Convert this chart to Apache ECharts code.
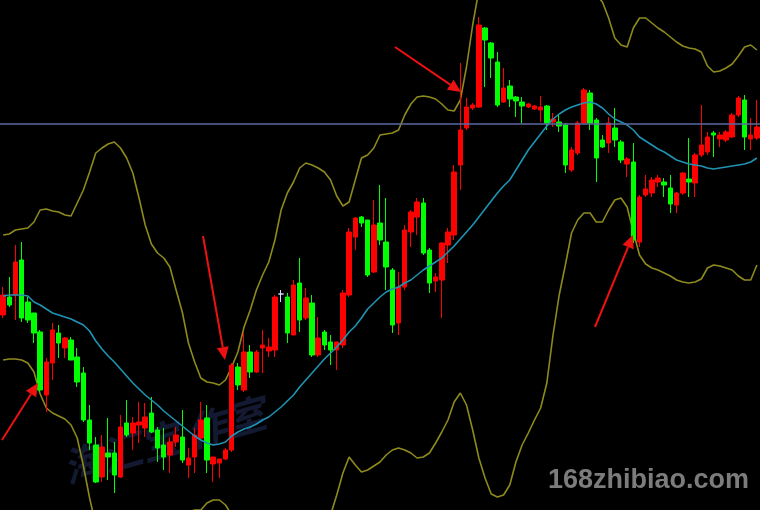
<!DOCTYPE html>
<html><head><meta charset="utf-8">
<script src="https://cdn.jsdelivr.net/npm/echarts@6/dist/echarts.min.js"></script>
<style>html,body{margin:0;padding:0;background:#000;}#c{width:760px;height:510px;}</style>
</head><body><div id="c"></div>
<script>
// candles: [open, close, low, high]
const candles = [
[195,215,192,223],[213,205,203,233],[215,248,190,265],[250,192,188,268],[208,190,187,213],
[197,177,167,197],[178,120,118,180],[115,148,98,152],[147,180,130,187],[177,167,152,185],
[162,172,152,173],[170,150,150,173],[153,128,123,162],[137,90,88,143],[90,67,60,105],
[65,28,27,73],[33,63,28,75],[57,53,30,92],[57,35,17,68],[33,83,32,95],
[87,75,73,110],[77,87,60,93],[85,88,67,108],[82,93,73,107],[97,78,77,113],
[80,62,48,83],[65,53,40,82],[55,68,37,73],[68,75,63,83],[73,50,47,100],
[45,52,32,62],[53,75,37,82],[72,90,70,108],[92,50,37,105],[46,53,28,53],
[47,51,32,51],[51,60,50,62],[60,145,58,147],[143,125,120,147],[120,158,118,177],
[158,138,132,165],[138,158,137,160],[162,165,137,180],[159,163,153,172],[160,213,153,215],
[216,216,208,220],[213,177,167,217],[175,225,175,230],[227,190,178,252],[192,212,190,222],
[207,155,153,215],[155,172,153,193],[178,165,160,180],[168,160,145,175],[160,168,140,168],
[165,217,162,220],[215,278,213,282],[273,292,260,293],[293,287,283,294],[290,235,233,290],
[238,285,237,310],[287,270,265,325],[268,243,220,312],[240,185,177,242],[187,223,175,238],
[223,280,220,285],[278,298,263,300],[293,308,275,312],[307,257,255,312],[260,227,217,262],
[229,233,218,237],[230,267,192,268],[265,278,247,282],[275,338,270,345],[345,380,320,447],
[382,403,380,412],[402,405,400,407],[403,485,402,493],[482,470,423,483],[467,452,432,468],
[448,405,403,458],[408,422,407,442],[424,411,403,430],[413,409,393,414],[408,404,387,413],
[403,406,402,407],[401,404,400,405],[400,403,388,414],[404,387,380,405],[388,391,383,397],
[388,384,378,395],[385,345,337,387],[340,360,338,363],[357,387,355,389],[387,420,386,422],
[417,387,380,420],[390,352,328,392],[370,363,362,375],[367,387,357,393],[382,370,363,402],
[368,350,347,370],[346,351,333,353],[348,270,267,367],[268,313,263,315],[315,321,313,335],
[317,330,313,333],[328,332,323,335],[328,325,313,332],[322,306,297,335],[305,317,297,318],
[317,337,315,338],[331,328,313,372],[327,355,313,357],[355,365,353,405],[358,373,355,378],
[377,375,353,379],[371,375,363,378],[370,378,368,380],[373,395,372,397],[395,412,393,414],
[410,373,360,415],[371,375,360,392],[372,383,370,410]
];
const bandMiddle = [214,215,215,215,214,208,205,201,197,195,193,191,188,185,179,169,161,154,148,141,
134,127,121,115,110,105,99,94,89,84,79,74,70,67,65,66,68,74,78,81,
83,86,90,93,98,103,109,115,123,130,137,144,151,157,163,170,178,184,192,201,
207,213,218,221,223,227,230,235,240,244,248,252,258,264,271,278,285,293,301,309,
317,324,330,340,350,360,368,376,384,391,396,400,403,405,407,408,406,402,396,391,
388,385,380,373,369,365,361,358,354,350,348,346,345,344,342,341,342,343,344,345,
346,348,352];
const bandUpper = [275,276,280,281,282,288,300,301,299,298,295,294,307,320,338,357,362,366,368,362,
352,337,312,285,266,257,252,243,220,198,167,148,132,128,127,125,130,143,158,183,
200,220,235,248,270,300,317,328,342,347,345,342,338,330,314,304,308,330,352,355,
362,375,376,377,380,395,406,413,414,413,411,406,400,399,410,443,485,520,540,555,
565,570,572,570,565,560,555,550,545,540,535,532,530,528,525,520,515,508,492,472,
465,463,482,492,492,487,482,478,473,468,464,462,461,458,444,438,439,442,446,454,
463,465,460];
const bandLower = [150,151,151,150,147,138,116,102,97,94,91,85,72,44,12,-15,-40,-60,-75,-80,
-80,-75,-65,-55,-45,-35,-25,-17,-10,-5,-2,0,0,7,10,10,5,-5,-15,-30,
-45,-60,-70,-80,-90,-100,-102,-100,-95,-85,-70,-50,-30,-5,15,37,53,45,38,40,
44,48,55,60,62,60,57,52,53,57,67,78,90,108,117,105,80,52,32,16,
13,15,25,48,65,77,90,102,127,175,215,245,277,290,297,297,288,288,300,310,
312,303,278,255,246,242,240,237,234,230,228,227,228,231,242,245,244,242,240,234,
230,230,245];
const priceLevel = 386;
const categories = candles.map((_, i) => 'B' + (i + 1));
const watermarkText = '海汇宝 作室';
const siteText = '168zhibiao.com';

const chart = echarts.init(document.getElementById('c'), null, {renderer: 'canvas'});

const arrows = [
  {from: [2, 440], to: [38, 383]},
  {from: [203, 236], to: [225, 360]},
  {from: [395, 47], to: [461, 92]},
  {from: [595, 327], to: [633, 235]}
];
function arrowEls(a) {
  const dx = a.to[0] - a.from[0], dy = a.to[1] - a.from[1];
  const L = Math.sqrt(dx * dx + dy * dy), ux = dx / L, uy = dy / L;
  const hl = 13, hw = 6;
  const bx = a.to[0] - ux * hl, by = a.to[1] - uy * hl;
  return [
    {type: 'polyline', z: 100, shape: {points: [a.from, [bx, by]]}, style: {stroke: '#ee1111', lineWidth: 2, fill: null}},
    {type: 'polygon', z: 100, shape: {points: [a.to, [bx - uy * hw, by + ux * hw], [bx + uy * hw, by - ux * hw]]}, style: {fill: '#ee1111'}}
  ];
}
let graphics = [];
arrows.forEach(a => { graphics = graphics.concat(arrowEls(a)); });
graphics.push({
  type: 'text', z: 0, left: 58, top: 392, rotation: 0.28, originX: 0, originY: 0,
  style: {text: watermarkText, fill: 'rgba(40,50,100,0.5)', font: 'italic bold 40px "Noto Sans CJK SC"'}
});
graphics.push({
  type: 'text', z: 100, left: 548, top: 467,
  style: {text: siteText, fill: '#7c7c7c', font: 'bold 27px "Liberation Sans", Arial'}
});

const candleData = candles.map(c => c[0] === c[1]
  ? {value: c, itemStyle: {color: '#d8d8ff', borderColor: '#d8d8ff', color0: '#d8d8ff', borderColor0: '#d8d8ff'}}
  : c);

chart.setOption({
  backgroundColor: '#000000',
  animation: false,
  grid: {left: 0, right: 0, top: 0, bottom: 0},
  xAxis: {type: 'category', data: categories, boundaryGap: true, show: false},
  yAxis: {type: 'value', min: 0, max: 510, show: false, splitLine: {show: false}},
  graphic: graphics,
  series: [
    {type: 'line', data: bandUpper, symbol: 'none', clip: true, lineStyle: {color: '#8e8a1e', width: 1.6}, z: 1},
    {type: 'line', data: bandLower, symbol: 'none', clip: true, lineStyle: {color: '#8e8a1e', width: 1.6}, z: 1},
    {type: 'line', data: bandMiddle, symbol: 'none', clip: true, lineStyle: {color: '#1f93b3', width: 1.6}, z: 3,
     markLine: {symbol: 'none', silent: true, label: {show: false}, animation: false,
       lineStyle: {color: '#5a6aa0', width: 1.5, type: 'solid'}, data: [{yAxis: priceLevel}]}},
    {type: 'candlestick', data: candleData, barWidth: 5, clip: true, z: 2,
     itemStyle: {color: '#ff0000', color0: '#00ff00', borderColor: '#ff0000', borderColor0: '#00ff00', borderWidth: 1}}
  ]
});
</script></body></html>
